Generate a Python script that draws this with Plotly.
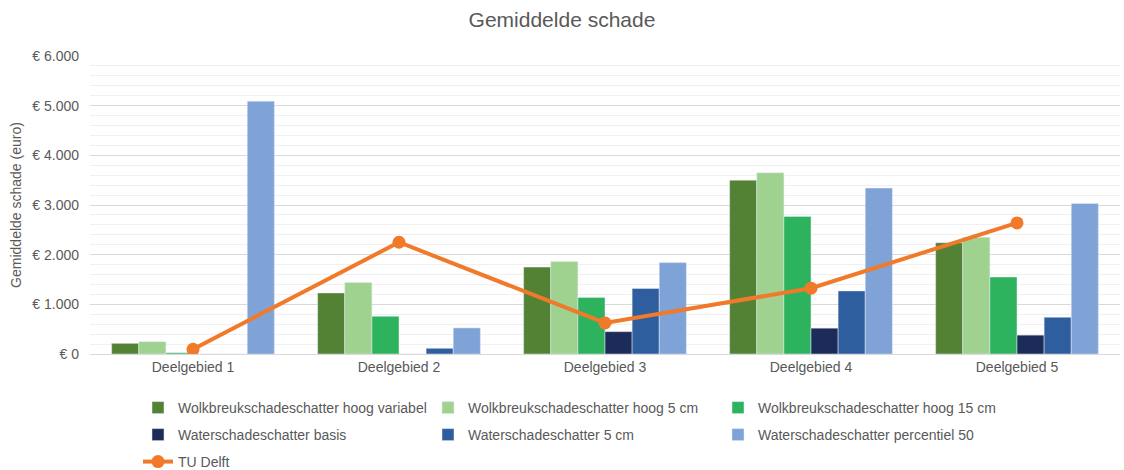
import plotly.graph_objects as go

categories = ["Deelgebied 1", "Deelgebied 2", "Deelgebied 3", "Deelgebied 4", "Deelgebied 5"]

hoog_variabel = [215, 1230, 1750, 3500, 2240]
hoog_5cm = [248, 1440, 1860, 3650, 2350]
hoog_15cm = [25, 760, 1140, 2770, 1550]
water_basis = [0, 0, 450, 520, 380]
water_5cm = [0, 115, 1320, 1270, 740]
water_p50 = [5090, 525, 1840, 3340, 3030]
tu_delft = [95, 2250, 625, 1325, 2640]

# name, values, colour, legend row
bar_series = [
    ("Wolkbreukschadeschatter hoog variabel", hoog_variabel, "#548235", "legend"),
    ("Wolkbreukschadeschatter hoog 5 cm", hoog_5cm, "#9FD18F", "legend"),
    ("Wolkbreukschadeschatter hoog 15 cm", hoog_15cm, "#2DB35E", "legend"),
    ("Waterschadeschatter basis", water_basis, "#1C2B59", "legend2"),
    ("Waterschadeschatter 5 cm", water_5cm, "#2E5E9E", "legend2"),
    ("Waterschadeschatter percentiel 50", water_p50, "#7FA3D6", "legend2"),
]

fig = go.Figure()

for name, vals, color, leg in bar_series:
    fig.add_trace(go.Bar(x=categories, y=vals, name=name, marker_color=color, legend=leg))

fig.add_trace(
    go.Scatter(
        x=categories,
        y=tu_delft,
        name="TU Delft",
        mode="lines+markers",
        line=dict(color="#F07A2A", width=4),
        marker=dict(size=13, color="#F07A2A"),
        legend="legend3",
    )
)

font_family = "Liberation Sans, Arial, sans-serif"


def legend_row(y_px):
    return dict(
        orientation="h",
        xref="container",
        yref="container",
        x=138 / 1124,
        xanchor="left",
        y=1 - y_px / 470,
        yanchor="middle",
        entrywidth=245,
        entrywidthmode="pixels",
        font=dict(size=14, color="#595959"),
        bgcolor="rgba(0,0,0,0)",
    )


fig.update_layout(
    width=1124,
    height=470,
    margin=dict(l=90, r=4, t=56, b=116),
    paper_bgcolor="white",
    plot_bgcolor="white",
    separators=",.",
    font=dict(family=font_family, size=14, color="#595959"),
    title=dict(
        text="Gemiddelde schade",
        x=0.5,
        xanchor="center",
        y=1 - 20 / 470,
        yanchor="middle",
        font=dict(size=21, color="#595959"),
    ),
    barmode="group",
    bargap=0.21,
    bargroupgap=0,
    legend=legend_row(408),
    legend2=legend_row(435),
    legend3=legend_row(462),
    xaxis=dict(
        showline=True,
        linecolor="#D9D9D9",
        ticks="",
        tickfont=dict(size=14, color="#595959"),
    ),
    yaxis=dict(
        title=dict(text="Gemiddelde schade (euro)", font=dict(size=14, color="#595959"), standoff=7),
        range=[0, 6000],
        dtick=1000,
        tickprefix="€ ",
        tickformat=",d",
        ticklabelstandoff=10,
        gridcolor="#D9D9D9",
        zeroline=False,
        tickfont=dict(size=14, color="#595959"),
        minor=dict(dtick=200, showgrid=True, gridcolor="#F0F0F0"),
    ),
)

# page body has a default 8px margin; drop it so the figure fills the window
fig.write_html(
    "out.html",
    config={"displayModeBar": False},
    post_script="document.body.style.margin='0';",
)
